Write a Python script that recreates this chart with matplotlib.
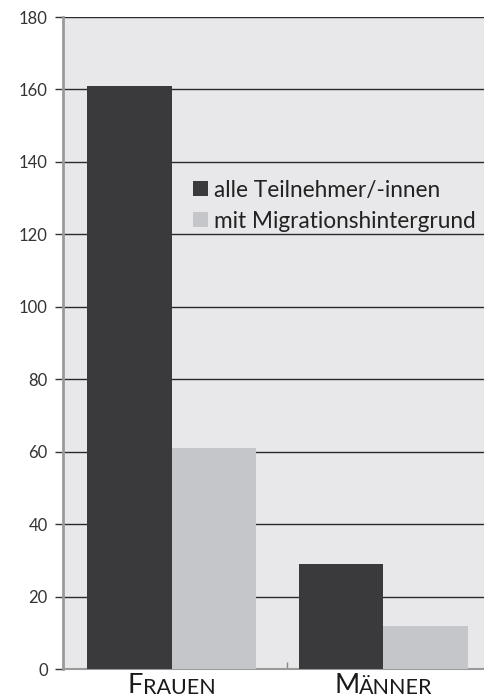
import matplotlib
matplotlib.use("Agg")
import matplotlib.pyplot as plt
import numpy as np

categories = ["Frauen", "Männer"]
series_names = ["alle Teilnehmer/-innen", "mit Migrationshintergrund"]
alle = [161, 29]
migration = [61, 12]
yticks = [0, 20, 40, 60, 80, 100, 120, 140, 160, 180]

dark = "#3a3a3c"
light = "#c5c6ca"
bg = "#e8e8ea"

plt.rcParams['font.family'] = ['Lato', 'DejaVu Sans']

fig = plt.figure(figsize=(4.85, 6.99), dpi=100)
ax = fig.add_axes([63/485, 1 - 669/699, (485-63)/485, (669-17)/699])
ax.set_facecolor(bg)

x = np.arange(len(categories))
w = 0.4
ax.bar(x - w/2, alle, width=w, color=dark, zorder=3, label=series_names[0])
ax.bar(x + w/2, migration, width=w, color=light, zorder=3, label=series_names[1])

ax.set_ylim(0, 180)
ax.set_xlim(-0.514, 1.48)
ax.set_yticks(yticks)
ax.yaxis.grid(True, color="#2a2a2a", linewidth=1.0, zorder=1)
ax.set_axisbelow(True)
ax.tick_params(axis='y', length=6, width=1, color="#333333", labelsize=12,
               labelcolor="#333333", pad=5)
ax.set_xticks([0.545])
ax.set_xticklabels([""])
ax.tick_params(axis='x', length=5, width=1, color="#888888", direction='in')

for s in ["top", "right"]:
    ax.spines[s].set_visible(False)
ax.spines["left"].set_color("#9a9a9a")
ax.spines["left"].set_linewidth(2)
ax.spines["bottom"].set_color("#9a9a9a")
ax.spines["bottom"].set_linewidth(1.5)

leg = ax.legend(loc="upper left", bbox_to_anchor=(0.26, 0.782), frameon=False,
                fontsize=16.3, handlelength=0.66, handleheight=0.66,
                handletextpad=0.25, labelspacing=0.45, labelcolor="#222222")

# small-caps category labels
for xi, name in zip(x, categories):
    first = name[0]
    rest = name[1:].upper()
    t1 = ax.text(xi, -24/652, first, transform=ax.get_xaxis_transform(),
                 ha="left", va="baseline", fontsize=19.5, color="#1a1a1a")
    fig.canvas.draw()
    bb1 = t1.get_window_extent()
    t2 = ax.annotate(rest, xy=(1, 0), xycoords=t1, ha="left", va="bottom",
                     fontsize=15.5, color="#1a1a1a")
    fig.canvas.draw()
    bb2 = t2.get_window_extent()
    total = (bb2.x1 - bb1.x0)
    cx_disp = ax.transData.transform((xi, 0))[0]
    shift = cx_disp - (bb1.x0 + total/2)
    px_per_data = ax.transData.transform((1, 0))[0] - ax.transData.transform((0, 0))[0]
    t1.set_x(xi + shift/px_per_data)

fig.savefig("out.png", dpi=100)
